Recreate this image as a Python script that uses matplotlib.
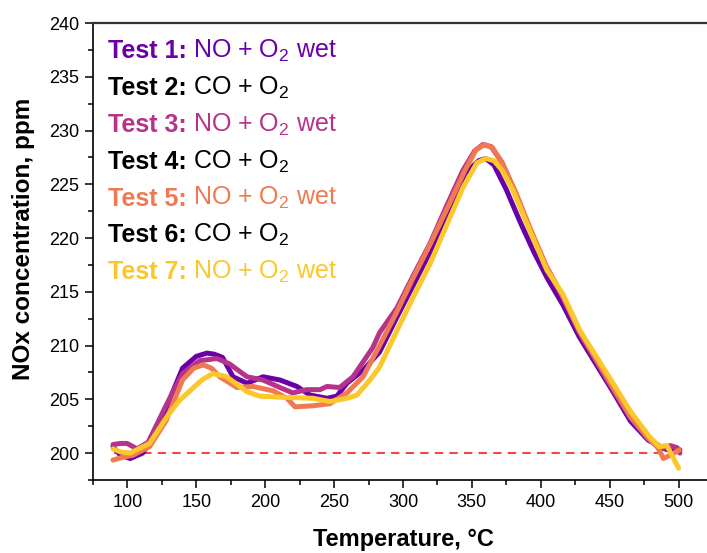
import matplotlib
matplotlib.use("Agg")
import matplotlib.pyplot as plt
from matplotlib.ticker import MultipleLocator

plt.rcParams["font.family"] = ["Liberation Sans", "DejaVu Sans"]
plt.rcParams["mathtext.fontset"] = "custom"
plt.rcParams["mathtext.rm"] = "Liberation Sans"
plt.rcParams["mathtext.bf"] = "Liberation Sans:bold"
plt.rcParams["mathtext.it"] = "Liberation Sans:italic"

# Test 1: NO + O2 wet
t1_temp = [89.5, 95, 102, 111, 120, 130, 140, 150, 157.7, 163, 169, 176.6, 186.8, 198.4,
           210.7, 223, 232.5, 244.8, 252, 259.3, 271, 283, 295, 307, 320, 333, 345, 355,
           360, 366, 375, 385, 395, 405, 416, 428, 440, 452, 465, 478, 490, 497, 501]
t1_nox = [200.6, 199.8, 199.5, 200.0, 201.8, 204.8, 207.9, 209.0, 209.3, 209.2, 208.9, 207.1,
          206.5, 207.1, 206.8, 206.2, 205.4, 205.1, 205.3, 206.5, 207.7, 209.4, 212.5, 215.5,
          218.8, 222.5, 226.0, 227.2, 227.4, 226.8, 224.5, 221.5, 218.7, 216.2, 213.8, 210.8,
          208.3, 205.8, 203.0, 201.2, 200.4, 200.1, 200.3]

# Test 3: NO + O2 wet
t3_temp = [89.5, 95, 99.7, 107, 115, 128.7, 140, 152.6, 165, 174, 186.8, 198.4, 210.7, 220,
           230, 239.7, 244.8, 254, 263.7, 278, 283, 295.6, 307, 319.6, 331, 343.5, 352, 358,
           364, 372, 382, 392, 404, 416, 428, 440, 452, 465, 478, 488, 494, 499, 501]
t3_nox = [200.8, 200.9, 200.9, 200.4, 201.0, 204.6, 207.4, 208.6, 208.8, 208.3, 207.1, 206.8,
          206.1, 205.6, 205.9, 205.9, 206.2, 206.1, 207.1, 209.8, 211.2, 213.5, 216.4, 219.5,
          222.8, 226.3, 228.1, 228.7, 228.5, 227.0, 224.0, 220.8, 217.3, 214.5, 211.2, 208.6,
          206.0, 203.3, 201.3, 200.4, 200.7, 200.5, 200.0]

# Test 5: NO + O2 wet
t5_temp = [89.5, 96, 104, 116, 128, 140, 148, 155, 161, 167, 179.5, 191, 205.6, 215.8, 221.6,
           234.7, 247, 259.3, 271, 283, 295, 307, 320, 333, 345, 353, 359, 365, 372, 382, 392,
           404, 416, 428, 440, 452, 465, 478, 485, 489, 494, 500.5]
t5_nox = [199.35, 199.6, 199.8, 200.6, 203.0, 206.8, 207.9, 208.2, 207.9, 207.1, 206.1, 206.2,
          205.8, 205.1, 204.3, 204.4, 204.6, 205.6, 207.1, 210.0, 213.0, 216.2, 219.5, 223.0,
          226.3, 228.2, 228.7, 228.4, 227.0, 224.2, 221.0, 217.4, 214.6, 211.4, 208.8, 206.2,
          203.4, 201.4, 200.5, 199.5, 199.8, 200.3]

# Test 7: NO + O2 wet
t7_temp = [89.5, 95, 102, 116, 128.7, 137, 145.4, 154, 162, 172, 186.8, 196, 210.7, 234.7,
           247, 259.3, 266.6, 276, 283, 295.6, 307, 319.6, 331, 343.5, 353.7, 360, 366, 372,
           380, 392, 404.5, 416, 428.4, 440.7, 452.4, 465, 479, 486, 491.5, 496, 500]
t7_nox = [200.4, 200.1, 200.0, 200.9, 203.4, 204.8, 205.8, 206.8, 207.4, 207.1, 205.7, 205.3,
          205.2, 205.1, 204.8, 205.1, 205.4, 206.8, 208.0, 211.4, 214.4, 217.6, 221.0, 224.7,
          227.0, 227.4, 227.2, 226.3, 224.4, 220.7, 217.0, 214.8, 211.4, 208.9, 206.5, 203.9,
          201.5, 200.6, 200.7, 199.6, 198.6]

baseline_temp = [90, 500]
baseline_nox = [200, 200]

legend_tests = ["Test 1:", "Test 2:", "Test 3:", "Test 4:", "Test 5:", "Test 6:", "Test 7:"]
legend_gases = ["NO + O$_2$ wet", "CO + O$_2$", "NO + O$_2$ wet", "CO + O$_2$",
                "NO + O$_2$ wet", "CO + O$_2$", "NO + O$_2$ wet"]

c1 = "#6a00a8"
c3 = "#b5338a"
c5 = "#ef7a52"
c7 = "#fcc72a"
legend_colors = [c1, "black", c3, "black", c5, "black", c7]

fig = plt.figure(figsize=(7.07, 5.53), dpi=100)
ax = fig.add_axes([93 / 707, 73 / 553, 620 / 707, 457 / 553])

ax.plot(baseline_temp, baseline_nox, color="#f04848", linewidth=1.5,
        linestyle=(0, (4, 3)), zorder=1)
for temp, nox, col in [(t1_temp, t1_nox, c1), (t3_temp, t3_nox, c3),
                       (t5_temp, t5_nox, c5), (t7_temp, t7_nox, c7)]:
    ax.plot(temp, nox, color=col, linewidth=3.6, solid_joinstyle="round",
            solid_capstyle="round", zorder=2)

ax.set_xlim(75, 525)
ax.set_ylim(197.5, 240)
ax.xaxis.set_major_locator(MultipleLocator(50))
ax.xaxis.set_minor_locator(MultipleLocator(25))
ax.yaxis.set_major_locator(MultipleLocator(5))
ax.yaxis.set_minor_locator(MultipleLocator(2.5))
ax.tick_params(which="major", direction="out", length=6, width=1.1, labelsize=13, pad=4)
ax.tick_params(which="minor", direction="out", length=3.5, width=1.1)
ax.spines["right"].set_visible(False)
ax.spines["top"].set_color("#333333")
ax.spines["top"].set_linewidth(1.6)
for s in ["left", "bottom"]:
    ax.spines[s].set_linewidth(1.2)

ax.set_xlabel("Temperature, °C", fontsize=17, fontweight="bold", labelpad=12)
ax.set_ylabel("NOx concentration, ppm", fontsize=17.5, fontweight="bold")
ax.yaxis.set_label_coords(-0.094, 0.527)

fs = 18
for i, (test, gas, col) in enumerate(zip(legend_tests, legend_gases, legend_colors)):
    t = ax.text(86, 236.7 - i * 3.42, test, color=col, fontsize=fs, fontweight="bold",
                va="baseline", ha="left")
    ax.annotate(gas, xy=(1, 0), xycoords=t, xytext=(4.5, 0.212 * fs),
                textcoords="offset points", color=col, fontsize=fs,
                va="baseline", ha="left")

plt.savefig("out.png", dpi=100)
